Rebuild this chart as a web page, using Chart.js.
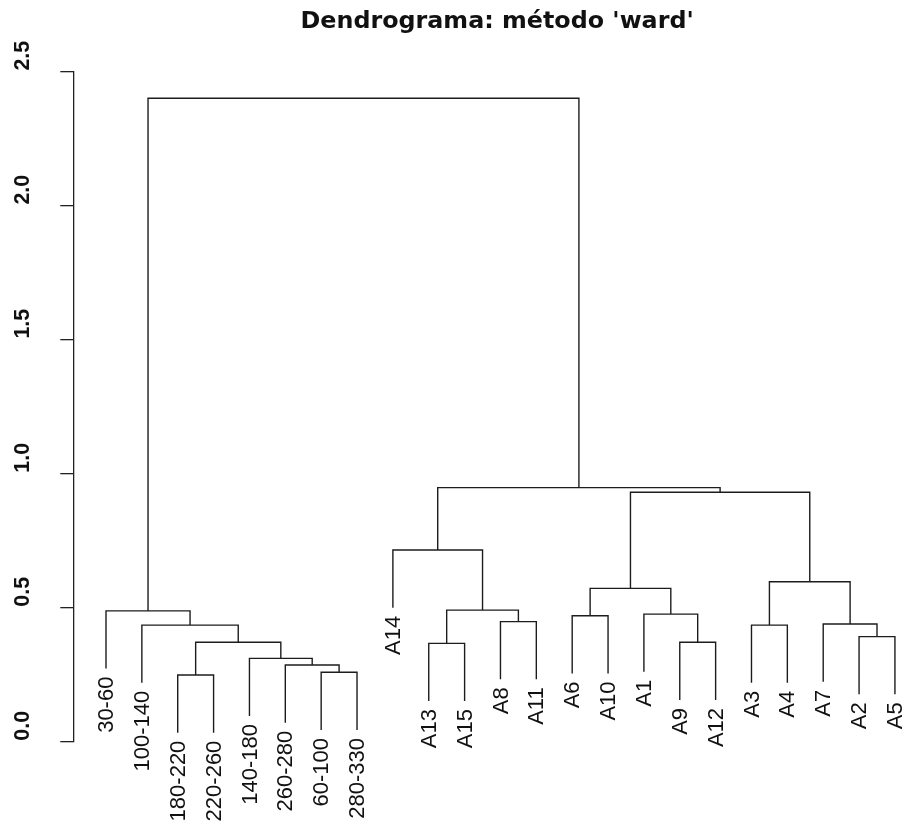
<!DOCTYPE html>
<html><head><meta charset="utf-8">
<script src="https://cdn.jsdelivr.net/npm/chart.js@4"></script>
<style>html,body{margin:0;padding:0;background:#fff}#wrap{width:921px;height:834px}</style>
</head><body><div id="wrap"><canvas id="c" width="921" height="834"></canvas></div>
<script>
const chartTitle = "Dendrograma: método 'ward'";
// leaves in plotting order
const leaves = ['30-60','100-140','180-220','220-260','140-180','260-280','60-100','280-330',
  'A14','A13','A15','A8','A11','A6','A10','A1','A9','A12','A3','A4','A7','A2','A5'];
// merges (R style): negative = leaf number (1-based), positive = earlier merge number
const mergeLeft  = [-3,-7,-6,-5,-10, 1,-17,-22,-2,-19,-21,-12,-14,-16,-1, 5,13,10,-9,17,19,15];
const mergeRight = [-4,-8, 2, 3,-11, 4,-18,-23, 6,-20,  8,-13,-15,  7, 9,12,14,11,16,18,20,21];
const mergeHeight = [0.249,0.259,0.286,0.311,0.367,0.371,0.371,0.392,0.435,0.435,0.439,0.448,
  0.470,0.476,0.488,0.491,0.572,0.597,0.715,0.931,0.948,2.401];
const yTicks = [0, 0.5, 1.0, 1.5, 2.0, 2.5];
const yTickLabels = ['0.0','0.5','1.0','1.5','2.0','2.5'];
const hangFraction = 0.1;

// ---- build dendrogram geometry (like plot.hclust) ----
const hMax = Math.max(...mergeHeight), hMin = Math.min(...mergeHeight);
const hang = hangFraction * (hMax - hMin);
const leafBottom = new Array(leaves.length).fill(0);
const mergeX = [];
function childInfo(c, parentH) {
  if (c < 0) { const i = -c - 1; leafBottom[i] = parentH - hang; return { x: i + 1, y: parentH - hang }; }
  return { x: mergeX[c - 1], y: mergeHeight[c - 1] };
}
const datasets = [];
for (let k = 0; k < mergeHeight.length; k++) {
  const h = mergeHeight[k];
  const a = childInfo(mergeLeft[k], h), b = childInfo(mergeRight[k], h);
  mergeX[k] = (a.x + b.x) / 2;
  datasets.push({
    data: [{x:a.x,y:a.y},{x:a.x,y:h},{x:b.x,y:h},{x:b.x,y:b.y}],
    borderColor: '#1c1c1c', borderWidth: 1.4, pointRadius: 0, fill: false, tension: 0
  });
}

const textPlugin = {
  id: 'dendroText',
  afterDraw(chart) {
    const ctx = chart.ctx, xs = chart.scales.x, ys = chart.scales.y;
    ctx.save();
    ctx.fillStyle = '#111';
    ctx.font = '22px "Liberation Sans", Arial, sans-serif';
    ctx.textAlign = 'right'; ctx.textBaseline = 'middle';
    leaves.forEach((lab, i) => {
      const px = xs.getPixelForValue(i + 1), py = ys.getPixelForValue(leafBottom[i]) + 8;
      ctx.save(); ctx.translate(px + 1, py); ctx.rotate(-Math.PI / 2); ctx.fillText(lab, 0, 0); ctx.restore();
    });
    ctx.font = 'bold 21.5px "Liberation Sans", Arial, sans-serif';
    ctx.textAlign = 'center';
    yTicks.forEach((v, i) => {
      const py = ys.getPixelForValue(v) - 16;
      ctx.save(); ctx.translate(23.5, py); ctx.rotate(-Math.PI / 2); ctx.fillText(yTickLabels[i], 0, 0); ctx.restore();
    });
    ctx.restore();
  }
};

new Chart(document.getElementById('c'), {
  type: 'line',
  data: { datasets },
  options: {
    responsive: false, animation: false, devicePixelRatio: 1,
    layout: { padding: { top: 0, left: 0, right: 0, bottom: 92.3 } },
    plugins: {
      legend: { display: false }, tooltip: { enabled: false },
      title: { display: true, text: chartTitle, fullSize: false, color: '#111',
        font: { family: 'DejaVu Sans', weight: 'bold', size: 23.8 }, padding: { top: 8, bottom: 35.1 } }
    },
    scales: {
      x: { type: 'linear', min: 0.088, max: 23.727, display: false },
      y: { type: 'linear', min: 0, max: 2.5, position: 'left',
        afterFit(s) { s.width = 73.3; },
        afterBuildTicks(s) { s.ticks = yTicks.map(v => ({ value: v })); },
        ticks: { display: false },
        grid: { drawOnChartArea: false, drawTicks: true, tickLength: 13, color: '#222', lineWidth: 1.3 },
        border: { display: true, color: '#222', width: 1.3 } }
    }
  },
  plugins: [textPlugin]
});
</script></body></html>
